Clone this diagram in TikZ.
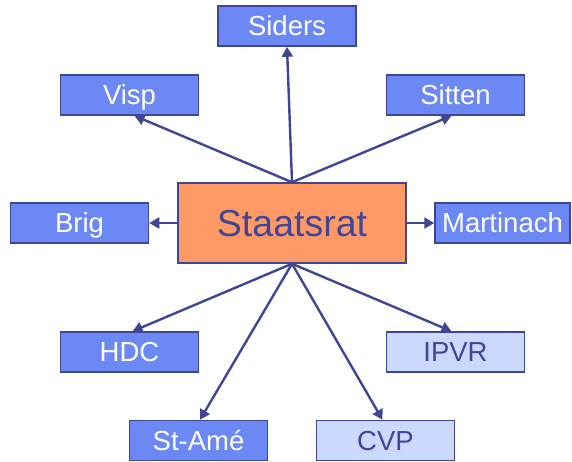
\documentclass[tikz,border=0pt]{standalone}
\usepackage{fontspec}
\setmainfont{Liberation Sans}
\usetikzlibrary{arrows.meta}
\definecolor{navy}{RGB}{64,70,150}
\definecolor{boxblue}{RGB}{107,136,245}
\definecolor{lightblue}{RGB}{204,217,255}
\definecolor{orangefill}{RGB}{255,153,102}
\tikzset{
  townbox/.style={draw=navy, line width=1.5pt, fill=boxblue, text=white,
    minimum width=138pt, minimum height=40pt, inner sep=0pt,
    text height=19.5pt, text depth=0pt,
    font=\fontsize{27.5}{27.5}\selectfont},
  lightbox/.style={townbox, fill=lightblue, text=navy},
  centerbox/.style={draw=navy, line width=1.5pt, fill=orangefill, text=navy,
    minimum width=228pt, minimum height=80pt, inner sep=0pt,
    text height=27pt, text depth=0pt,
    font=\fontsize{37.5}{37.5}\selectfont},
  link/.style={draw=navy, line width=2.4pt, -{Triangle[length=10pt,width=11pt]}}
}
\begin{document}
\begin{tikzpicture}[x=1pt,y=-1pt]
\useasboundingbox (0,0) rectangle (572,461);
\node[centerbox] (S) at (292,223) {Staatsrat};
\node[townbox] (siders) at (287,26) {Siders};
\node[townbox] (visp) at (129.5,95) {Visp};
\node[townbox] (sitten) at (455.5,95) {Sitten};
\node[townbox] (brig) at (79.5,223) {Brig};
\node[townbox, minimum width=135pt] (mart) at (502.5,223) {Martinach};
\node[townbox] (hdc) at (129.5,352) {HDC};
\node[lightbox] (ipvr) at (455.5,352) {IPVR};
\node[townbox] (stame) at (198.5,440.5) {St-Amé};
\node[lightbox] (cvp) at (385.5,440.5) {CVP};
\draw[link] (S.north) -- (siders.south);
\draw[link] (S.north) -- ([xshift=5pt]visp.south);
\draw[link] (S.north) -- ([xshift=-4pt]sitten.south);
\draw[link] (S.west) -- (brig.east);
\draw[link] (S.east) -- (mart.west);
\draw[link] (S.south) -- ([xshift=3pt]hdc.north);
\draw[link] (S.south) -- ([xshift=-4pt]ipvr.north);
\draw[link] (S.south) -- ([xshift=1.5pt]stame.north);
\draw[link] (S.south) -- ([xshift=-3pt]cvp.north);
\end{tikzpicture}
\end{document}
